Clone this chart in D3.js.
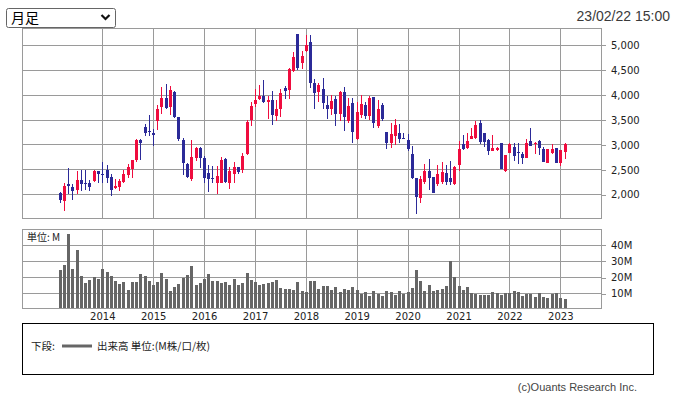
<!DOCTYPE html>
<html lang="ja">
<head>
<meta charset="utf-8">
<title>月足</title>
<script src="https://cdnjs.cloudflare.com/ajax/libs/d3/7.8.5/d3.min.js"></script>
<style>
  body { margin: 0; background: #fff; }
  svg { display: block; font-family: "DejaVu Sans", sans-serif; }
  .grid line { stroke: #9a9a9a; shape-rendering: crispEdges; }
  .frame { fill: none; stroke: #9a9a9a; shape-rendering: crispEdges; }
  .axis path.domain { display: none; }
  .axis line { stroke: #9a9a9a; shape-rendering: crispEdges; }
  .axis text { font-size: 10px; fill: #222; font-family: "DejaVu Sans", sans-serif; }
  .cjk { font-family: "Noto Sans CJK JP", sans-serif; }
</style>
</head>
<body>
<script>
// monthly candles, Mar 2013 .. Feb 2023
var firstMonth = new Date(Date.UTC(2013, 2, 1));
var lastMonth = new Date(Date.UTC(2023, 1, 1));
var stamp = "23/02/22 15:00";

var open = [2020,1866,2201,2141,2081,2282,2215,2228,2268,2463,
  2403,2483,2349,2134,2148,2242,2383,2497,2685,3087,
  3349,3275,3222,3477,3745,3933,3745,4054,3544,3087,
  2604,2309,2718,2920,2732,2416,2329,2228,2228,2705,
  2228,2403,2550,2483,2805,3490,3812,3906,3980,3859,
  3893,3571,3711,4128,4094,4483,5221,4631,4866,5047,
  4228,4047,4107,3792,3711,3913,3604,4047,3477,3839,
  3108,3591,3792,3577,3946,3376,3792,3255,3034,3168,
  3235,3134,3087,2805,2329,1926,2248,2463,2349,2195,
  2248,2430,2329,2201,2584,3000,2933,3107,3121,3436,
  3221,3087,2873,2880,3020,2470,2819,2953,2839,2799,
  2732,3067,3000,3074,2906,2631,2832,2920,2631,2852];
var high = [2047,2215,2530,2201,2463,2477,2477,2282,2483,2463,
  2645,2584,2396,2302,2302,2483,2597,2685,3114,3107,
  3410,3590,3302,3785,4155,4215,4175,4074,3557,3121,
  2618,3081,2953,2953,2765,2584,2571,2564,2745,2732,
  2537,2645,2550,2832,3490,3859,4107,4195,4295,3980,
  4074,3893,4107,4175,4544,4852,5221,4866,5188,5201,
  4309,4242,4342,3973,3993,3980,4074,4161,3926,3926,
  3859,3993,3859,3980,3960,3893,3839,3255,3423,3503,
  3403,3221,3201,2973,2329,2362,2604,2698,2349,2584,
  2638,2591,2671,2564,3074,3188,3221,3336,3470,3490,
  3221,3101,3193,2940,3020,2785,3034,3034,3034,2839,
  3107,3336,3054,3087,2953,2906,3000,2933,2886,3020];
var low = [1826,1658,2014,1879,2000,2061,2081,2061,2248,2228,
  2228,2228,1967,2114,2067,2228,2329,2329,2651,2685,
  3168,3168,2973,3289,3611,3705,3597,3524,3067,2376,
  2322,2268,2671,2530,2215,2047,2228,2000,2215,2215,
  2114,2215,2403,2430,2785,3369,3745,3893,3839,3503,
  3389,3477,3557,3913,3913,4463,4497,4517,4852,4128,
  3711,3859,3711,3510,3584,3376,3470,3269,3436,3034,
  3087,3524,3503,3490,3322,3322,3477,2900,2920,2987,
  3020,3101,2873,2296,1597,1832,2195,2081,2027,2161,
  2201,2175,2181,2181,2470,2886,2900,3107,3107,3000,
  2940,2785,2873,2870,2503,2450,2819,2664,2597,2597,
  2720,2973,2799,2785,2651,2631,2799,2617,2570,2705];
var close = [1879,2168,2168,2061,2282,2201,2201,2148,2463,2403,
  2390,2329,2094,2168,2268,2410,2550,2685,3087,3034,
  3228,3268,3188,3711,3940,3725,4094,3544,3101,2631,
  2349,2738,2933,2732,2329,2309,2309,2362,2685,2235,
  2463,2550,2443,2765,3456,3772,3893,3980,3859,3893,
  3591,3711,4040,4081,4517,4745,4544,4779,4987,4228,
  4027,4195,3839,3711,3873,3604,4047,3557,3772,3255,
  3658,3812,3577,3940,3436,3711,3510,3034,3201,3389,
  3108,3114,2913,2329,1947,2302,2463,2329,2027,2403,
  2450,2248,2248,2550,2899,2906,3074,3174,3389,3040,
  3054,2873,2933,2930,2503,2785,3000,2765,2832,2732,
  3034,2973,3020,2933,2651,2906,2906,2631,2886,3007];
// volume, millions
var volume = [24.6,27.7,46.5,25.2,36.5,20.8,16.5,18.3,20.0,19.0,
  25.2,23.3,20.8,17.7,15.8,17.1,12.1,17.1,17.1,22.1,
  20.8,17.7,15.2,17.1,22.7,19.0,11.5,14.0,15.8,19.6,
  21.5,27.1,15.2,16.5,19.0,22.1,17.7,17.7,16.5,17.1,
  15.2,19.0,15.2,16.5,22.7,18.3,17.1,15.2,15.8,16.5,
  17.1,18.3,13.3,12.7,12.7,12.1,17.1,11.5,10.8,17.7,
  17.7,12.7,14.6,14.6,12.1,14.0,10.8,12.7,12.1,14.0,
  12.1,9.6,10.8,8.3,11.5,9.6,8.3,11.5,10.8,9.0,
  11.5,9.6,10.8,13.3,24.6,17.7,11.5,15.2,11.5,12.1,
  12.7,14.6,30.2,20.2,14.6,12.1,14.0,10.2,9.6,9.0,
  9.0,9.0,10.8,10.2,9.0,10.2,10.2,11.5,10.8,8.3,
  9.6,9.6,7.7,10.2,7.7,7.1,9.6,10.2,7.1,6.5];

var years = d3.range(2014, 2024);
var priceTicks = [2000, 2500, 3000, 3500, 4000, 4500, 5000];
var volTicks = [10, 20, 30, 40];

var months = d3.utcMonth.range(firstMonth, d3.utcMonth.offset(lastMonth, 1));
var candles = months.map(function(d, i) {
  return {date: d, o: open[i], h: high[i], l: low[i], c: close[i], v: volume[i]};
});

var W = 677, H = 397;
var left = 22, right = 602;
var top1 = 28, bot1 = 218;
var top2 = 229, bot2 = 308;

var upColor = "#ef0c3e", downColor = "#2b2a98";

var x = d3.scaleUtc()
  .domain([new Date(Date.UTC(2014, 0, 1)), new Date(Date.UTC(2023, 0, 1))])
  .range([102.3, 560.3]);
var y = d3.scaleLinear().domain([2000, 5000]).range([194.2, 44.8]);
var yv = d3.scaleLinear().domain([0, 40]).range([309.3, 244.8]);

var svg = d3.select("body").append("svg")
  .attr("width", W).attr("height", H);

svg.append("rect").attr("width", W).attr("height", H).attr("fill", "#fff");

// header: period selector + timestamp
var sel = svg.append("g");
sel.append("rect").attr("x", 6.5).attr("y", 8.5).attr("width", 109).attr("height", 19)
  .attr("rx", 2).attr("fill", "#fff").attr("stroke", "#666");
sel.append("text").attr("class", "cjk").attr("x", 11).attr("y", 23)
  .attr("font-size", 14).attr("fill", "#000").text("月足");
sel.append("path").attr("d", "M101.5,15 L105.5,19 L109.5,15")
  .attr("fill", "none").attr("stroke", "#111").attr("stroke-width", 2.2);

svg.append("text").attr("x", 670).attr("y", 21).attr("text-anchor", "end")
  .attr("font-family", "Liberation Sans, Arial, sans-serif").attr("font-size", 14)
  .attr("fill", "#3a3a3a").text(stamp);

function px(v) { return Math.round(v) + 0.5; }

// grids
var grid = svg.append("g").attr("class", "grid");
grid.selectAll(".hp").data(priceTicks).enter().append("line")
  .attr("x1", left).attr("x2", right)
  .attr("y1", function(d) { return px(y(d)); }).attr("y2", function(d) { return px(y(d)); });
grid.selectAll(".hv").data(volTicks).enter().append("line")
  .attr("x1", left).attr("x2", right)
  .attr("y1", function(d) { return px(yv(d)); }).attr("y2", function(d) { return px(yv(d)); });
years.forEach(function(yr) {
  var gx = px(x(new Date(Date.UTC(yr, 0, 1))));
  grid.append("line").attr("x1", gx).attr("x2", gx).attr("y1", top1).attr("y2", bot1);
  grid.append("line").attr("x1", gx).attr("x2", gx).attr("y1", top2).attr("y2", bot2);
});

// candles
var cg = svg.append("g").attr("shape-rendering", "crispEdges");
var cs = cg.selectAll("g").data(candles).enter().append("g")
  .attr("fill", function(d) { return d.c >= d.o ? upColor : downColor; });
cs.append("rect")
  .attr("x", function(d) { return Math.round(x(d.date)); })
  .attr("width", 1)
  .attr("y", function(d) { return y(d.h); })
  .attr("height", function(d) { return Math.max(1, y(d.l) - y(d.h)); });
cs.append("rect")
  .attr("x", function(d) { return Math.round(x(d.date)) - 1; })
  .attr("width", 3)
  .attr("y", function(d) { return y(Math.max(d.o, d.c)); })
  .attr("height", function(d) { return Math.max(1, Math.abs(y(d.o) - y(d.c))); });

// volume bars
svg.append("g").attr("shape-rendering", "crispEdges")
  .selectAll("rect").data(candles).enter().append("rect")
  .attr("x", function(d) { return Math.round(x(d.date)) - 1; })
  .attr("width", 3)
  .attr("y", function(d) { return yv(d.v); })
  .attr("height", function(d) { return bot2 - yv(d.v); })
  .attr("fill", "#666");

// frames
svg.append("rect").attr("class", "frame")
  .attr("x", left + 0.5).attr("y", top1 + 0.5).attr("width", right - left - 1).attr("height", bot1 - top1);
svg.append("rect").attr("class", "frame")
  .attr("x", left + 0.5).attr("y", top2 + 0.5).attr("width", right - left - 1).attr("height", bot2 - top2);

// axes
svg.append("g").attr("class", "axis").attr("transform", "translate(" + (right - 1) + ",0.5)")
  .call(d3.axisRight(y).tickValues(priceTicks).tickSize(5).tickPadding(5).tickFormat(d3.format(",")));
svg.append("g").attr("class", "axis").attr("transform", "translate(" + (right - 1) + ",0.5)")
  .call(d3.axisRight(yv).tickValues(volTicks).tickSize(5).tickPadding(5).tickFormat(function(d) { return d + "M"; }));
svg.append("g").attr("class", "axis").attr("transform", "translate(0," + (bot2 + 1) + ")")
  .call(d3.axisBottom(x).tickValues(years.map(function(yr) { return new Date(Date.UTC(yr, 0, 1)); }))
    .tickSize(0).tickPadding(4).tickFormat(d3.utcFormat("%Y")));

svg.append("text").attr("class", "cjk").attr("x", 27).attr("y", 241)
  .attr("font-size", 10).attr("fill", "#222").text("単位: M");

// legend box
svg.append("rect").attr("x", 22.5).attr("y", 323.5).attr("width", 631).attr("height", 50.5)
  .attr("fill", "none").attr("stroke", "#000").attr("shape-rendering", "crispEdges");
svg.append("text").attr("class", "cjk").attr("x", 31).attr("y", 350)
  .attr("font-size", 10.5).attr("fill", "#222").text("下段:");
svg.append("line").attr("x1", 62).attr("x2", 92).attr("y1", 346).attr("y2", 346)
  .attr("stroke", "#666").attr("stroke-width", 3);
svg.append("text").attr("class", "cjk").attr("x", 97).attr("y", 350)
  .attr("font-size", 10.5).attr("fill", "#222").text("出来高 単位:(M株/口/枚)");

svg.append("text").attr("x", 637).attr("y", 391).attr("text-anchor", "end")
  .attr("font-family", "Liberation Sans, Arial, sans-serif").attr("font-size", 11)
  .attr("fill", "#444").text("(c)Ouants Research Inc.");
</script>
</body>
</html>
